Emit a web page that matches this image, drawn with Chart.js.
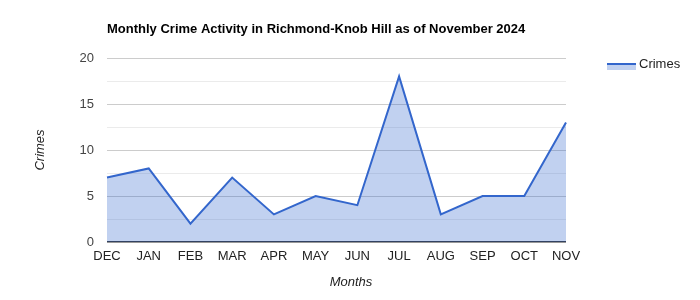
<!DOCTYPE html>
<html>
<head>
<meta charset="utf-8">
<script src="https://cdn.jsdelivr.net/npm/chart.js@4.4.0/dist/chart.umd.min.js"></script>
<style>
  html, body { margin: 0; padding: 0; background: #fff; }
  #wrap { width: 700px; height: 300px; }
</style>
</head>
<body>
<div id="wrap"><canvas id="myChart" width="700" height="300"></canvas></div>
<script>
const months = ['DEC', 'JAN', 'FEB', 'MAR', 'APR', 'MAY', 'JUN', 'JUL', 'AUG', 'SEP', 'OCT', 'NOV'];
const crimes = [7, 8, 2, 7, 3, 5, 4, 18, 3, 5, 5, 13];
const yTicks = [0, 5, 10, 15, 20];

const chartTitle = 'Monthly Crime Activity in Richmond-Knob Hill as of November 2024';
const xTitle = 'Months';
const yTitle = 'Crimes';
const seriesName = 'Crimes';

const fontFamily = 'Arial, "Liberation Sans", sans-serif';

// title, axis titles and legend drawn by hand
const extras = {
  id: 'extras',
  afterDraw(chart) {
    const ctx = chart.ctx;
    const area = chart.chartArea;
    ctx.save();
    ctx.fillStyle = '#000';
    ctx.font = 'bold 13px ' + fontFamily;
    ctx.textBaseline = 'middle';
    ctx.textAlign = 'left';
    ctx.fillText(chartTitle, area.left, 29);

    ctx.fillStyle = '#222';
    ctx.font = 'italic 13px ' + fontFamily;
    ctx.textAlign = 'center';
    ctx.fillText(xTitle, 351, 282);

    ctx.translate(40, (area.top + area.bottom) / 2);
    ctx.rotate(-Math.PI / 2);
    ctx.fillText(yTitle, 0, 0);
    ctx.restore();

    // legend
    ctx.save();
    ctx.fillStyle = 'rgba(51, 102, 204, 0.3)';
    ctx.fillRect(607, 64, 29, 6);
    ctx.strokeStyle = '#3366cc';
    ctx.lineWidth = 2;
    ctx.beginPath();
    ctx.moveTo(607, 64);
    ctx.lineTo(636, 64);
    ctx.stroke();
    ctx.fillStyle = '#222';
    ctx.font = '13px ' + fontFamily;
    ctx.textBaseline = 'middle';
    ctx.fillText(seriesName, 639, 64);
    ctx.restore();
  }
};

new Chart(document.getElementById('myChart'), {
  type: 'line',
  data: {
    labels: months,
    datasets: [{
      label: seriesName,
      data: crimes,
      borderColor: '#3366cc',
      backgroundColor: 'rgba(51, 102, 204, 0.3)',
      borderWidth: 2,
      fill: 'origin',
      tension: 0,
      pointRadius: 0,
      pointHoverRadius: 0
    }]
  },
  options: {
    responsive: false,
    animation: false,
    devicePixelRatio: 1,
    layout: {
      padding: { left: 0, top: 58, right: 134, bottom: 0 }
    },
    plugins: {
      legend: { display: false },
      title: { display: false },
      tooltip: { enabled: false }
    },
    scales: {
      x: {
        offset: false,
        grid: { display: false, drawTicks: false },
        border: { display: false },
        ticks: {
          color: '#222',
          font: { family: fontFamily, size: 13 },
          padding: 7,
          maxRotation: 0,
          autoSkip: false
        },
        afterFit: (scale) => { scale.height = 58; }
      },
      y: {
        min: yTicks[0],
        max: yTicks[yTicks.length - 1],
        grid: {
          drawTicks: false,
          color: (c) => {
            if (c.tick.value === 0) return '#333';
            return yTicks.includes(c.tick.value) ? '#cccccc' : '#ebebeb';
          },
          lineWidth: (c) => c.tick.value === 0 ? 1.5 : 1
        },
        border: { display: false },
        ticks: {
          stepSize: 2.5,
          color: '#444',
          padding: 13,
          font: { family: fontFamily, size: 13 },
          callback: (v) => yTicks.includes(v) ? v : ''
        },
        afterFit: (scale) => { scale.width = 107; }
      }
    }
  },
  plugins: [extras]
});
</script>
</body>
</html>
